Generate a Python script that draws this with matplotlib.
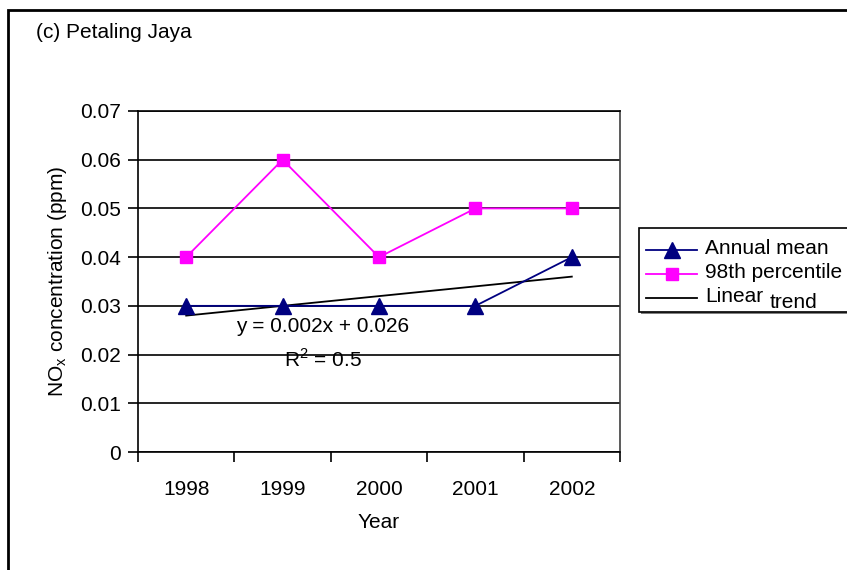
import numpy as np
import matplotlib.pyplot as plt
from matplotlib.patches import Rectangle
from matplotlib.lines import Line2D

plt.rcParams['font.family'] = ['Liberation Sans', 'DejaVu Sans']

years = ['1998', '1999', '2000', '2001', '2002']
annual_mean = [0.03, 0.03, 0.03, 0.03, 0.04]
pct98 = [0.04, 0.06, 0.04, 0.05, 0.05]
slope, intercept = 0.002, 0.026
r2 = 0.5
yticks = [0, 0.01, 0.02, 0.03, 0.04, 0.05, 0.06, 0.07]

FS = 15
W, H = 847, 570
fig = plt.figure(figsize=(W / 100, H / 100), dpi=100)

def fx(px):
    return px / W

def fy(py):
    return 1 - py / H

# outer chart frame
fig.patches.append(Rectangle((fx(8), fy(H + 20)), 1.2, fy(10) - fy(H + 20),
                             transform=fig.transFigure, fill=False,
                             edgecolor='black', linewidth=2, zorder=0))

ax = fig.add_axes([fx(138), fy(452), fx(620) - fx(138), fy(111) - fy(452)])
x = np.arange(len(years))

for v in yticks:
    ax.axhline(v, color='black', linewidth=1.2, zorder=1)

trend = slope * (x + 1) + intercept
ax.plot(x, trend, color='black', linewidth=1.3, zorder=2)
ax.plot(x, annual_mean, color='#000080', linewidth=1.3, marker='^',
        markersize=11, zorder=3)
ax.plot(x, pct98, color='#FF00FF', linewidth=1.3, marker='s',
        markersize=8.5, zorder=3)

ax.set_xlim(-0.5, len(years) - 0.5)
ax.set_ylim(0, 0.07)
ax.set_yticks(yticks)
ax.set_yticklabels(['0'] + ['%.2f' % v for v in yticks[1:]])
ax.set_xticks(np.arange(len(years) + 1) - 0.5)
ax.set_xticklabels([])
ax.set_xticks(x, minor=True)
ax.set_xticklabels(years, minor=True)
ax.tick_params(axis='x', which='major', direction='out', length=7, width=1.2)
ax.tick_params(axis='x', which='minor', length=0, pad=20, labelsize=FS)
ax.tick_params(axis='y', direction='out', length=7, width=1.2, labelsize=FS, pad=5)
for s in ax.spines.values():
    s.set_linewidth(1.2)
    s.set_color('black')
ax.spines['right'].set_color('#404040')

ax.set_xlabel('Year', fontsize=FS, labelpad=10)
ax.set_ylabel('NO$_\\mathregular{x}$ concentration (ppm)', fontsize=FS, labelpad=8)

fig.text(fx(36), fy(33), '(c) Petaling Jaya', fontsize=FS, va='center', ha='left')

fig.text(fx(323), fy(326), 'y = 0.002x + 0.026', fontsize=FS, ha='center', va='center')
fig.text(fx(323), fy(360), 'R$^\\mathregular{2}$ = %g' % r2, fontsize=FS, ha='center', va='center')

# legend box drawn by hand
fig.patches.append(Rectangle((fx(641), fy(314)), 0.5, fy(230) - fy(314),
                             transform=fig.transFigure, facecolor='#808080',
                             edgecolor='none', zorder=4))
fig.patches.append(Rectangle((fx(639), fy(312)), 0.5, fy(228) - fy(312),
                             transform=fig.transFigure, facecolor='white',
                             edgecolor='black', linewidth=1.2, zorder=5))
rows = [
    (250, '#000080', '^', 11, 'Annual mean'),
    (274, '#FF00FF', 's', 8.5, '98th percentile'),
    (298, 'black', None, 0, 'Linear'),
]
for py, col, mk, ms, lab in rows:
    fig.lines.append(Line2D([fx(646), fx(697)], [fy(py), fy(py)],
                            transform=fig.transFigure, color=col, linewidth=1.3,
                            marker=None, zorder=6))
    if mk:
        fig.lines.append(Line2D([fx(672)], [fy(py)], transform=fig.transFigure,
                                color=col, marker=mk, markersize=ms, zorder=6))
    fig.text(fx(705), fy(py - 1), lab, fontsize=FS, ha='left', va='center', zorder=7)
fig.text(fx(770), fy(303), 'trend', fontsize=FS, ha='left', va='center', zorder=7)

fig.savefig('out.png', dpi=100)
